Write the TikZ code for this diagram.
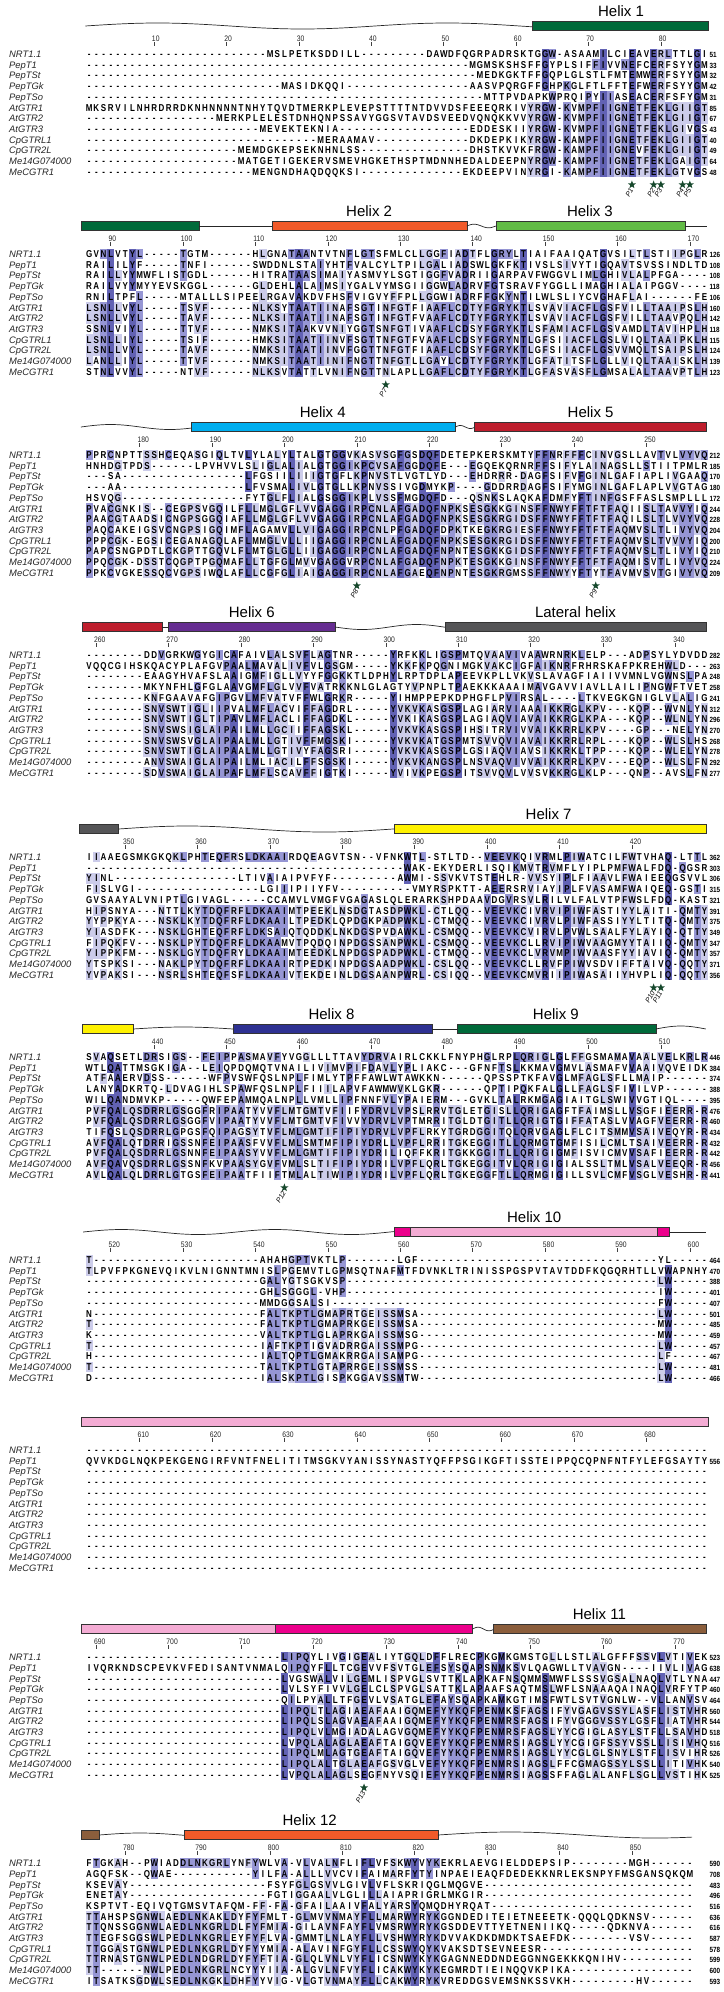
\documentclass[tikz,border=0pt]{standalone}
\usepackage{fontspec}
\setmainfont{Liberation Sans}
\newfontfamily\seqfont{Liberation Sans}[FakeStretch=0.8]
\newfontfamily\numfont{Liberation Sans}[FakeStretch=0.85]
\usetikzlibrary{shapes.geometric}
\definecolor{pidhi}{RGB}{98,98,180}
\definecolor{pidmd}{RGB}{150,150,212}
\definecolor{pidlo}{RGB}{204,204,234}
\definecolor{hxgreen}{RGB}{0,106,58}
\definecolor{hxorange}{RGB}{241,90,41}
\definecolor{hxlime}{RGB}{98,187,70}
\definecolor{hxcyan}{RGB}{0,174,239}
\definecolor{hxred}{RGB}{190,30,45}
\definecolor{hxpurple}{RGB}{102,45,145}
\definecolor{hxgray}{RGB}{85,85,87}
\definecolor{hxyellow}{RGB}{255,242,0}
\definecolor{hxnavy}{RGB}{46,49,146}
\definecolor{hxpink}{RGB}{244,172,212}
\definecolor{hxmagenta}{RGB}{236,0,140}
\definecolor{hxbrown}{RGB}{139,94,60}
\definecolor{stargreen}{RGB}{22,72,44}

\newlength\colw
\setlength\colw{7.24pt}
\newcommand\shadebox[1]{\rlap{\textcolor{#1}{\rule[-1.77pt]{\colw}{10.7pt}}}}
\newcommand\alncell[2]{\ifcase#1\or\shadebox{pidlo}\or\shadebox{pidmd}\or\shadebox{pidhi}\fi\makebox[\colw][c]{#2}}
\newcommand\colx[1]{85.3+(#1-0.5)*7.24}
\newcommand\bx[1]{85.3+(#1)*7.24}
\newcommand\seqname[1]{\ifcase#1\or NRT1.1\or PepT1\or PepTSt\or PepTGk\or PepTSo\or AtGTR1\or AtGTR2\or AtGTR3\or CpGTRL1\or CpGTR2L\or Me14G074000\or MeCGTR1\fi}

% column shading: percent identity over the 12 rows
\ExplSyntaxOn
\seq_new:N \l_aln_rows_seq
\int_new:N \l_aln_ncol_int
\int_new:N \l_aln_cnt_int
\tl_new:N \l_aln_num_tl
\tl_new:N \l_aln_raw_tl
\tl_const:Nn \c_aln_gap_tl { - }
\int_step_inline:nn { 12 }
  {
    \tl_new:c { l_aln_s_#1_tl }
    \tl_new:c { l_aln_o_#1_tl }
    \tl_new:c { l_aln_ch_#1_tl }
  }
\cs_new_protected:Npn \aln_flush:N #1
  {
    \tl_if_empty:NF \l_aln_num_tl
      {
        \tl_put_right:Nx #1 { \prg_replicate:nn { \l_aln_num_tl } { - } }
        \tl_clear:N \l_aln_num_tl
      }
  }
\cs_new_protected:Npn \aln_decode:Nn #1#2
  {
    \tl_clear:N #1
    \tl_clear:N \l_aln_num_tl
    \tl_map_inline:nn {#2}
      {
        \tl_if_in:nnTF { 0123456789 } {##1}
          { \tl_put_right:Nn \l_aln_num_tl {##1} }
          { \aln_flush:N #1 \tl_put_right:Nn #1 {##1} }
      }
    \aln_flush:N #1
  }
\cs_generate_variant:Nn \aln_decode:Nn { cV }
\cs_new:Npn \aln_level:
  {
    \int_compare:nNnTF \l_aln_cnt_int > { 9 } { 3 }
      {
        \int_compare:nNnTF \l_aln_cnt_int > { 7 } { 2 }
          { \int_compare:nNnTF \l_aln_cnt_int > { 4 } { 1 } { 0 } }
      }
  }
\cs_new_protected:Npn \aln_count:n #1
  {
    \int_zero:N \l_aln_cnt_int
    \int_step_inline:nn { 12 }
      {
        \exp_args:Ncc \tl_if_eq:NNT { l_aln_ch_#1_tl } { l_aln_ch_##1_tl }
          { \int_incr:N \l_aln_cnt_int }
      }
  }
\cs_new_protected:Npn \aln_column:n #1
  {
    \int_step_inline:nn { 12 }
      {
        \tl_set:cx { l_aln_ch_##1_tl }
          { \exp_args:Nc \tl_item:Nn { l_aln_s_##1_tl } {#1} }
      }
    \int_step_inline:nn { 12 }
      {
        \exp_args:Nc \tl_if_eq:NNTF { l_aln_ch_##1_tl } \c_aln_gap_tl
          { \tl_put_right:cn { l_aln_o_##1_tl } { \alncell {0} {-} } }
          {
            \aln_count:n {##1}
            \tl_put_right:cx { l_aln_o_##1_tl }
              { \exp_not:N \alncell { \aln_level: } { \tl_use:c { l_aln_ch_##1_tl } } }
          }
      }
  }
\NewDocumentCommand \SetBlock { m }
  {
    \seq_set_from_clist:Nn \l_aln_rows_seq {#1}
    \int_step_inline:nn { 12 }
      {
        \tl_set:Nx \l_aln_raw_tl { \seq_item:Nn \l_aln_rows_seq {##1} }
        \aln_decode:cV { l_aln_s_##1_tl } \l_aln_raw_tl
        \tl_clear:c { l_aln_o_##1_tl }
      }
    \int_set:Nn \l_aln_ncol_int { \tl_count:c { l_aln_s_1_tl } }
    \int_step_inline:nn { \l_aln_ncol_int } { \aln_column:n {##1} }
  }
\NewExpandableDocumentCommand \AlnRow { m } { \tl_use:c { l_aln_o_#1_tl } }
\ExplSyntaxOff

% rows of one block: block, y of first row, end numbers
\newcommand\alnrows[3]{%
  \foreach \nm [count=\i] in {#3} {%
    \pgfmathsetmacro\yy{#2+(\i-1)*10.7+3.58}
    \node[seqname] (n#1-\i) at (9,\yy) {\seqname{\i}};
    \node[seqrow] (s#1-\i) at (85.3,\yy) {\AlnRow{\i}};
    \node[seqnum] (c#1-\i) at (709.3,\yy) {\nm};
  }}
% ruler: y, column offset, numbers
\newcommand\alnruler[3]{%
  \foreach \n in {#3} {%
    \draw[rtick] ({\colx{\n-#2}},{#1-12}) -- ({\colx{\n-#2}},{#1-8.5});
    \node[rulenum] (r\n) at ({\colx{\n-#2}-2.3},{#1-12.3}) {\n};
  }}
\newcommand\helixbox[4]{\draw[helixbar, fill=#4] ({\bx{#2}},{#1-32.5}) rectangle ({\bx{#3}},{#1-23.5});}
% loop line: y, from, to, amplitude, degrees per column
\newcommand\coilline[5]{\draw[coil] plot[domain=#2:#3, samples=60, smooth] ({\bx{\x}},{#1-28+#4*sin(#5*(\x-(#2)))});}
\newcommand\plainline[3]{\draw[coil] ({\bx{#2}},{#1-28}) -- ({\bx{#3}},{#1-28});}
\newcommand\pmark[3]{%
  \node[pstar] (st#3) at ({\colx{#2}},{#1+130.7}) {};
  \node[plabel] (pl#3) at ([yshift=-1.2pt]st#3.south) {#3};}

\begin{document}
\begin{tikzpicture}[x=1pt, y=-1pt,
  seqrow/.style={anchor=base west, inner sep=0pt, font=\seqfont\bfseries\fontsize{10}{10}\selectfont},
  seqname/.style={anchor=base west, inner sep=0pt, text=black!85, font=\itshape\fontsize{9.4}{10}\selectfont},
  seqnum/.style={anchor=base west, inner sep=0pt, font=\numfont\bfseries\fontsize{7.5}{8}\selectfont},
  rulenum/.style={anchor=south west, inner sep=0pt, text=black!85, font=\numfont\fontsize{8}{8}\selectfont},
  rtick/.style={draw=black!75, line width=0.5pt},
  helixlabel/.style={anchor=base, inner sep=0pt, font=\fontsize{15}{15}\selectfont},
  helixbar/.style={draw=black!80, line width=0.5pt},
  coil/.style={draw=black!85, line width=0.7pt},
  pstar/.style={star, star points=5, star point ratio=2.4, fill=stargreen, minimum size=8.5pt, inner sep=0pt},
  plabel/.style={rotate=60, anchor=east, inner sep=0.5pt, font=\itshape\fontsize{7}{7}\selectfont}
]
\useasboundingbox (0,0) rectangle (723,1992);

%block 1
\SetBlock{
25MSLPETKSDDILL9DAWDFQGRPADRSKTGGW-ASAAMILCIEAVERLTTLGI,
53MGMSKSHSFFGYPLSIFFIVVNEFCERFSYYGM,
54MEDKGKTFFGQPLGLSTLFMTEMWERFSYYGM,
27MASIDKQQI17AASVPQRGFFGHPKGLFTLFFTEFWERFSYYGM,
55MTTPVDAPKWPRQIPYIIASEACERFSFYGM,
MKSRVILNHRDRRDKNHNNNNTNHYTQVDTMERKPLEVEPSTTTTNTDVVDSFEEEQRKIVYRGW-KVMPFIIGNETFEKLGIIGT,
18MERKPLELESTDNHQNPSSAVYGGSVTAVDSVEEDVQNQKKVVYRGW-KVMPFIIGNETFEKLGIIGT,
24MEVEKTEKNIA18EDDESKIIYRGW-KVMPFIIGNETFEKLGIVGS,
32MERAAMAV13DKDEPKIKYRGW-KAMPFIIGNETFEKLGIIGT,
21MEMDGKEPSEKNHNLSS15DHSTKVVKFRGW-KAMPFIIGNEVFEKLGIIGT,
21MATGETIGEKERVSMEVHGKETHSPTMDNNHEDALDEEPNYRGW-KAMPFIIGNETFEKLGAIGT,
23MENGNDHAQDQQKSI14EKDEEPVINYRGI-KAMPFIIGNETFEKLGTVGS}
\alnrows{1}{54}{51,33,32,42,31,85,67,43,40,49,64,48}
\alnruler{54}{0}{10,20,...,80}
\coilline{54}{0}{61.8}{3}{-9}
\helixbox{54}{61.8}{86}{hxgreen}
\node[helixlabel] (lab1) at ({\bx{74}},{54-37.6}) {Helix 1};
\pmark{54}{76}{P1}
\pmark{54}{79}{P2}
\pmark{54}{80}{P3}
\pmark{54}{83}{P4}
\pmark{54}{84}{P5}

%block 2
\SetBlock{
GVNLVTYL5TGTM6HLGNATAANTVTNFLGTSFMLCLLGGFIADTFLGRYLTIAIFAAIQATGVSILTLSTIIPGLR,
RAILILYF5TNFI6SWDDNLSTAIYHTFVALCYLTPILGALIADSWLGKFKTIVSLSIVYTIGQAVTSVSSINDLTD,
RAILLYYMWFLISTGDL6HITRATAASIMAIYASMVYLSGTIGGFVADRIIGARPAVFWGGVLIMLGHIVLALPFGA4,
RAILVYYMYYEVSKGGL6GLDEHLALAIMSIYGALVYMSGIIGGWLADRVFGTSRAVFYGGLLIMAGHIALAIPGGV4,
RNILTPFL5MTALLLSIPEELRGAVAKDVFHSFVIGVYFFPLLGGWIADRFFGKYNTILWLSLIYCVGHAFLAI6FE,
LSNLLVYL5TSVF6NLKSYTAATIINAFSGTINFGTFIAAFLCDTYFGRYKTLSVAVIACFLGSFVILLTAAIPSLH,
LSNLLVYL5TAVF6NLKSITAATIINAFSGTINFGTFVAAFLCDTYFGRYKTLSVAVIACFLGSFVILLTAAVPQLH,
SSNLVIYL5TTVF6NMKSITAAKVVNIYGGTSNFGTIVAAFLCDSYFGRYKTLSFAMIACFLGSVAMDLTAVIHPLH,
LSNLLIYL5TSIF6HMKSITAATIINVFSGTTNFGTFVAAFLCDSYFGRYNTLGFSIIACFLGSLVIQLTAAIPKLH,
LSNLLVYL5TAVF6NMKSITAATIINVFGGTTNFGTFIAAFLCDSYFGRYKTLGFSIIACFLGSVVMQLTSAIPSLH,
LANLLIYL5TTVF6NMKSITAATIINIFNGTTNFGTLLGAYLCDTYFGRYKTLGFATITSFLGLLVIQLTAAISKLH,
STNLVVYL5NTVF6NLKSVTATTLVNIFNGTTNLAPLLGAFLCDTYFGRYKTLGFASVASFLGMSALALTAAVPTLH}
\alnrows{2}{254}{126,108,108,118,106,160,142,118,115,124,139,123}
\alnruler{254}{86}{90,100,...,170}
\helixbox{254}{-0.6}{15.7}{hxgreen}
\plainline{254}{15.7}{25.8}
\helixbox{254}{25.8}{52.7}{hxorange}
\coilline{254}{52.7}{56.7}{1.8}{-90}
\helixbox{254}{56.7}{82.8}{hxlime}
\plainline{254}{82.8}{85.8}
\node[helixlabel] (lab2) at ({\bx{39.2}},{254-37.6}) {Helix 2};
\node[helixlabel] (lab3) at ({\bx{69.7}},{254-37.6}) {Helix 3};
\pmark{254}{42}{P7}

%block 3
\SetBlock{
PPRCNPTTSSHCEQASGIQLTVLYLALYLTALGTGGVKASVSGFGSDQFDETEPKERSKMTYFFNRFFFCINVGSLLAVTVLVYVQ,
HNHDGTPDS6LPVHVVLSLIGLALIALGTGGIKPCVSAFGGDQFE3EGQEKQRNRFFSIFYLAINAGSLLSTIITPMLR,
3SA17LFGSIILIIIGTGFLKPNVSTLVGTLYD3EHDRRR-DAGFSIFVFGINLGAFIAPLIVGAAQ,
3AA17LFVSMALIVLGTGLLKPNVSSIVGDMYKP4GDDRRDAGFSIFYMGINLGAFLAPLVVGTAG,
HSVQG17FYTGLFLIALGSGGIKPLVSSFMGDQFD3QSNKSLAQKAFDMFYFTINFGSFFASLSMPLLL,
PVACGNKIS2CEGPSVGQILFLLMGLGFLVVGAGGIRPCNLAFGADQFNPKSESGKKGINSFFNWYFFTFTFAQIISLTAVVYIQ,
PAACGTAADSICNGPSGGQIAFLLMGLGFLVVGAGGIRPCNLAFGADQFNPKSESGKRGIDSFFNWYFFTFTFAQILSLTLVVYVQ,
PAQCAKEIGSVCNGPSIGQIMFLAGAMVLLVIGAGGIRPCNLPFGADQFDPKTKEGKRGIESFFNWYFFTFTFAQMVSLTLIVYVQ,
PPPCGK-EGSICEGANAGQLAFLMMGLVLLIIGAGGIRPCNLAFGADQFNPKSESGKRGIDSFFNWYFFTFTFAQMVSLTVVVYIQ,
PAPCSNGPDTLCKGPTTGQVLFLMTGLGLLIIGAGGIRPCNLAFGADQFNPNTESGKKGIDSFFNWYFFTFTFAQMVSLTLIVYIQ,
PPQCGK-DSSTCQGPTPGQMAFLLTGFGLMVVGAGGVRPCNLAFGADQFNPKTESGKKGINSFFNWYFFTFTFAQMISVTLIVYVQ,
PPKCVGKESSQCVGPSIWQLAFLLCGFGLIAIGAGGIRPCNLAFGAEQFNPNTESGKRGMSSFFNWYYFTYTFAVMVSVTGIVYVQ}
\alnrows{3}{455}{212,185,170,180,172,244,228,204,200,210,224,209}
\alnruler{455}{172}{180,190,...,250}
\coilline{455}{-0.6}{14.6}{2.5}{-22}
\helixbox{455}{14.6}{51.1}{hxcyan}
\coilline{455}{51.1}{53.7}{1.5}{-130}
\helixbox{455}{53.7}{85.8}{hxred}
\node[helixlabel] (lab4) at ({\bx{32.8}},{455-37.6}) {Helix 4};
\node[helixlabel] (lab5) at ({\bx{69.8}},{455-37.6}) {Helix 5};
\pmark{455}{38}{P8}
\pmark{455}{71}{P9}

%block 4
\SetBlock{
8DDVGRKWGYGICAFAIVLALSVFLAGTNR5YRFKKLIGSPMTQVAAVIVAAWRNRKLELP3ADPSYLYDVDD,
VQQCGIHSKQACYPLAFGVPAALMAVALIVFVLGSGM5YKKFKPQGNIMGKVAKCIGFAIKNRFRHRSKAFPKREHWLD3,
8EAAGYHVAFSLAAIGMFIGLLVYYFGGKKTLDPHYLRPTDPLAPEEVKPLLVKVSLAVAGFIAIIVVMNLVGWNSLPA,
8MKYNFHLGFGLAAVGMFLGLVVFVATRKKNLGLAGTYVPNPLTPAEKKKAAAIMAVGAVVIAVLLAILIPNGWFTVET,
8KNFGAAVAFGIPGVLMFVATVFFWLGRKR5YIHMPPEPKDPHGFLPVIRSAL4LTKVEGKGNIGLVLALIG,
8SNVSWTIGLIIPVALMFLACVIFFAGDRL5YVKVKASGSPLAGIARVIAAAIKKRGLKPV3KQP2WVNLYN,
8SNVSWTIGLTIPAVLMFLACLIFFAGDKL5YVKIKASGSPLAGIAQVIAVAIKKRGLKPA3KQP2WLNLYN,
8SNVSWSIGLAIPAILMLLGCIIFFAGSKL5YVKVKASGSPIHSITRVIVVAIKKRRLKPV4GP3NELYN,
8SNVSWSVGLAIPAALMLLGTIVFFMGSKI5YVKVKATGSPMTSVVQVIAVAIKKRRLRPL3KQP2WLSLHS,
8SNVSWTIGLAIPAALMLLGTIVYFAGSRI5YVKVKASGSPLGSIAQVIAVSIKKRKLTPP3KQP2WLELYN,
8ANVSWAIGLAIPAILMLIACILFFSGSKI5YVKVKANGSPLNSVAQVIVVAIKKRRLKPV3EQP2WLSLFN,
8SDVSWAIGLAIPAFLMFLSCAVFFIGTKI5YVIVKPEGSPITSVVQVLVVSVKKRGLKLP3QNP2AVSLFN}
\alnrows{4}{655}{282,263,248,258,241,312,296,270,268,278,292,277}
\alnruler{655}{258}{260,270,...,340}
\helixbox{655}{-0.4}{10.6}{hxred}
\plainline{655}{10.6}{11.5}
\helixbox{655}{11.5}{34.5}{hxpurple}
\coilline{655}{34.5}{49.7}{2.5}{24}
\helixbox{655}{49.7}{85.7}{hxgray}
\node[helixlabel] (lab6) at ({\bx{23}},{655-37.6}) {Helix 6};
\node[helixlabel] (lab7) at ({\bx{67.7}},{655-37.6}) {Lateral helix};

%block 5
\SetBlock{
IIAAEGSMKGKQKLPHTEQFRSLDKAAIRDQEAGVTSN2VFNKWTL-STLTD2VEEVKQIVRMLPIWATCILFWTVHAQ-LTTL,
44WAK-EKYDERLISQIKMVTRVMFLYIPLPMFWALFDQ-QGSR,
YINL17LTIVAIAIPVFYF9AWMI-SSVKVTSTEHLR-VVSYIPLFIAAVLFWAIEEQGSVVL,
FISLVGI17LGIIIPIIYFV10VMYRSPKTT-AEERSRVIAYIPLFVASAMFWAIQEQ-GSTI,
GVSAAYALVNIPTLGIVAGL5CCAMVLVMGFVGAGASLQLERARKSHPDAAVDGVRSVLRILVLFALVTPFWSLFDQ-KAST,
HIPSNYA3NTTLKYTDQFRFLDKAAIMTPEEKLNSDGTASDPWKL-CTLQQ2VEEVKCIVRVIPIWFASTIYYLAITI-QMTY,
YYPPKYA3NSKLKYTDQFRFLDKAAILTPEDKLQPDGKPADPWKL-CTMQQ2VEEVKCIVRVLPIWFASSIYYLTITQ-QMTY,
YIASDFK3NSKLGHTEQFRFLDKSAIQTQDDKLNKDGSPVDAWKL-CSMQQ2VEEVKCVIRVLPVWLSAALFYLAYIQ-QTTY,
FIPQKFV3NSKLPYTDQFRFLDKAAMVTPQDQINPDGSSANPWKL-CSMQQ2VEEVKCLLRVIPIWVAAGMYYTAIIQ-QMTY,
YIPPKFM3NSKLGYTDQFRYLDKAAIMTEEDKLNPDGSPADPWKL-CTMQQ2VEEVKCLVRVMPIWVAASFYYIAVIQ-QMTY,
YTSPKSI3NAKLPYTDQFRFLDKAAIRTPEDKINPDGSAADPWKL-CSLQQ2VEEVKCLLRVFPIWVSDVIFFTAIVQ-QQTY,
YVPAKSI3NSRLSHTEQFSFLDKAAIVTEKDEINLDGSAANPWRL-CSIQQ2VEEVKCMVRIIPIWASAIIYHVPLIQ-QQTY}
\alnrows{5}{857}{362,303,306,315,321,391,375,349,347,357,371,356}
\alnruler{857}{344}{350,360,...,420}
\helixbox{857}{-0.8}{4.6}{hxgray}
\coilline{857}{4.6}{42.7}{3}{-9.5}
\helixbox{857}{42.7}{85.8}{hxyellow}
\node[helixlabel] (lab8) at ({\bx{64}},{857-37.6}) {Helix 7};
\pmark{857}{79}{P10}
\pmark{857}{80}{P11}

%block 6
\SetBlock{
SVAQSETLDRSIGS2FEIPPASMAVFYVGGLLLTTAVYDRVAIRLCKKLFNYPHGLRPLQRIGLGLFFGSMAMAVAALVELKRLR,
WTLQATTMSGKIGA2LEIQPDQMQTVNAILIVIMVPIFDAVLYPLIAKC3GFNFTSLKKMAVGMVLASMAFVVAAIVQVEIDK,
ATFAAERVDSS6WFPVSWFQSLNPLFIMLYTPFFAWLWTAWKKN6QPSSPTKFAVGLMFAGLSFLLMAIP6,
LANYADKRTQ-LDVAGIHLSPAWFQSLNPLFIIILAPVFAWMWVKLGKR6QPTIPQKFALGLLFAGLSFIVILVP6,
WILQANDMVKP5QWFEPAMMQALNPLLVMLLIPFNNFVLYPAIERM3GVKLTALRKMGAGIAITGLSWIVVGTIQL4,
PVFQALQSDRRLGSGGFRIPAATYVVFLMTGMTVFIIFYDRVLVPSLRRVTGLETGISLLQRIGAGFTFAIMSLLVSGFIEERR-R,
PVFQALQSDRRLGSGGFVIPAATYVVFLMTGMTVFIVVYDRVLVPTMRRITGLDTGITLLQRIGTGIFFATASLVVAGFVEERR-R,
TIFQSLQSDRRLGPGSFQIPAGSYTVFLMLGMTIFIPIYDRVLVPFLRKYTGRDGGITQLQRVGAGLFLCITSMMVSAIVEQYR-R,
AVFQALQTDRRIGSSNFEIPAASFVVFLMLSMTMFIPIYDRLLVPFLRRITGKEGGITLLQRMGTGMFISILCMLTSAIVEERR-R,
PVFQALQSDRRLGSNNFEIPAASYVVFLMLGMTIFIPIYDRILIQFFKRITGKKGGITLLQRIGIGMFISVICMVVSAFIEERR-R,
AVFQAVQSDRRLGSSNFKVPAASYGVFVMLSLTIFIPIYDRILVPFLQRLTGKEGGITVLQRIGIGIALSSLTMLVSALVEEQR-R,
AVLQALQLDRRLGTGSFEIPAATFIIFTMLALTIWIPIYDRILVPFLQRLTGKEGGFTLLQRMGIGILLSVLCMFVSGLVESHR-R}
\alnrows{6}{1057}{446,384,374,388,395,476,460,434,432,442,456,441}
\alnruler{1057}{430}{440,450,...,510}
\helixbox{1057}{-0.4}{6.6}{hxyellow}
\coilline{1057}{6.6}{20.4}{2}{-13}
\helixbox{1057}{20.4}{47.9}{hxnavy}
\plainline{1057}{47.9}{51.4}
\helixbox{1057}{51.4}{78.8}{hxgreen}
\coilline{1057}{78.8}{85.7}{3}{-26}
\node[helixlabel] (lab9) at ({\bx{34}},{1057-37.6}) {Helix 8};
\node[helixlabel] (lab10) at ({\bx{65}},{1057-37.6}) {Helix 9};
\pmark{1057}{28}{P12}

%block 7
\SetBlock{
T23AHAHGPTVKTLP7LGF33YL5,
TLPVFPKGNEVQIKVLNIGNNTMNISLPGEMVTLGPMSQTNAFMTFDVNKLTRINISSPGSPVTAVTDDFKQGQRHTLLVWAPNHY,
24GALYGTSGKVSP43LW5,
24GHLSGGGL-VHP43IW5,
24MMDGGSALSI45FW5,
N23FALTKPTLGMAPRTGEISSMSA33LW5,
T23FALTKPTLGMAPRKGEISSMSA33MW5,
K23VALTKPTLGLAPRKGAISSMSG33MW5,
T23IAFTKPTIGVADRRGAISSMPG33LW5,
H23IALTQPTLGMAKRRGAISAMPG33LF5,
T23TALTKPTLGTAPRRGEISSMSS33LW5,
D23IALSKPTLGISPKGGAVSSMTW33LW5}
\alnrows{7}{1260}{464,470,388,401,407,501,485,459,457,467,481,466}
\alnruler{1260}{516}{520,530,...,600}
\coilline{1260}{-0.3}{42.7}{2.5}{-17}
\helixbox{1260}{42.7}{44.9}{hxmagenta}
\helixbox{1260}{44.9}{79}{hxpink}
\helixbox{1260}{79}{80.7}{hxmagenta}
\plainline{1260}{80.7}{85.7}
\node[helixlabel] (lab11) at ({\bx{62}},{1260-37.6}) {Helix 10};

%block 8
\SetBlock{
86,
QVVKDGLNQKPEKGENGIRFVNTFNELITITMSGKVYANISSYNASTYQFFPSGIKGFTISSTEIPPQCQPNFNTFYLEFGSAYTY,
86, 86, 86, 86, 86, 86, 86, 86, 86, 86}
\alnrows{8}{1450}{{},556,{},{},{},{},{},{},{},{},{},{}}
\alnruler{1450}{602}{610,620,...,680}
\helixbox{1450}{-0.6}{86}{hxpink}

%block 9
\SetBlock{
27LIPQYLIVGIGEALIYTGQLDFFLRECPKGMKGMSTGLLLSTLALGFFFSSVLVTIVEK,
IVQRKNDSCPEVKVFEDISANTVNMALQIPQYFLLTCGEVVFSVTGLEFSYSQAPSNMKSVLQAGWLLTVAVGN4IIVLIVAG,
27LVGSWALVILGEMLISPVGLSVTTKLAPKAFNSQMMSMWFLSSSVGSALNAQLVTLYNA,
27LVLSYFIVVLGELCLSPVGLSATTKLAPAAFSAQTMSLWFLSNAAAQAINAQLVRFYTP,
27QILPYALLTFGEVLVSATGLEFAYSQAPKAMKGTIMSFWTLSVTVGNLW2VLLANVSV,
27LIPQLTLAGIAEAFAAIGQMEFYYKQFPENMKSFAGSIFYVGAGVSSYLASFLISTVHR,
27LIPQLSLAGVAEAFAAIGQMEFYYKQFPENMRSFAGSIFYVGGGVSSYLGSFLIATVHR,
27LIPQLVLMGIADALAGVGQMEFYYKQFPENMRSFAGSLYYCGIGLASYLSTFLLSAVHD,
27LVPQLALAGLAEAFTAIGQVEFYYKQFPENMRSIAGSLYYCGIGFSSYVSSLLISIVHQ,
27LIPQLMLAGTGEAFTAIGQVEFYYKQFPENMRSIAGSLYYCGLGLSNYLSTFLISVIHR,
27LIPQLALTGLAEAFGSVGLVEFYYKQFPENMRSIAGSLFFCGMAGSSYLSSLLITIVHK,
27LVPQLALAGLSEGFNYVSQIEFYYKQFPENMRSIAGSSFFAGLALANFLSGLLVSTIHK}
\alnrows{9}{1657}{523,638,447,460,464,560,544,518,516,526,540,525}
\alnruler{1657}{688}{690,700,...,770}
\helixbox{1657}{-0.6}{26.3}{hxpink}
\helixbox{1657}{26.3}{53.5}{hxmagenta}
\coilline{1657}{53.5}{56.4}{1.8}{-120}
\helixbox{1657}{56.4}{85.7}{hxbrown}
\node[helixlabel] (lab12) at ({\bx{71}},{1657-37.6}) {Helix 11};
\pmark{1657}{39}{P13}

%block 10
\SetBlock{
FTGKAH2PWIADDLNKGRLYNFYWLVA-VLVALNFLIFLVFSKWYVYKEKRLAEVGIELDDEPSIP8MGH6,
AGQFSK2QWAE11YILFA-ALLLVVCVIFAIMARFYTYINPAEIEAQFDEDEKKNRLEKSNPYFMSGANSQKQM,
KSEVAY19FSYFGLGSVVLGIVLVFLSKRIQGLMQGVE29,
ENETAY19FGTIGGAALVLGLILLAIAPRIGRLMKGIR29,
KSPTVT-EQIVQTGMSVTAFQM-FF-FA-GFAILAAIVFALYARSYQMQDHYRQAT28,
TTAHSPSGNWLAEDLNKAKLDYFYFMLT-GLMVVNMAYFLLMARWYRYKGGNDEDITEIETNEEETK-QQQLQDKNSV6,
TTQNSSGGNWLAEDLNKGRLDLFYFMIA-GILAVNFAYFLVMSRWYRYKGSDDEVTTYETNENIIKQ5QDKNVA6,
TTEGFSGGSWLPEDLNKGRLEYFYFLVA-GMMTLNLAYFLLVSHWYRYKDVVAKDKDMDKTSAEFDK8VSV6,
TTGGASTGNWLPEDLNKGRLDYFYYMIA-ALAVINFGYFLLCSSWYQYKVAKSDTSEVNEESR21,
TTRNASTGNWLPEDLNDGRLDYFYFTIA-GLQLVNLVYFLICSNWYKYKGAGNNEDDNDEGGNNGEKKKQNIHV10,
TT6NWLPEDLNKGRLNCYYYIIA-ALGVLNFVYFLICAKWYKYKEGMRDTIEINQQVKPIKA17,
ITSATKSGDWLSEDLNKGKLDHFYYVIG-VLGTVNMAYFLLCAKWYRYKVREDDGSVEMSNKSSVKH9HV6}
\alnrows{10}{1863}{590,708,483,496,516,636,616,587,578,599,600,593}
\alnruler{1863}{774}{780,790,...,850}
\helixbox{1863}{-0.6}{1.9}{hxbrown}
\coilline{1863}{1.9}{13.7}{2}{-16}
\helixbox{1863}{13.7}{48.7}{hxorange}
\coilline{1863}{48.7}{83.8}{3}{-9}
\node[helixlabel] (lab13) at ({\bx{31}},{1863-37.6}) {Helix 12};

\end{tikzpicture}
\end{document}
